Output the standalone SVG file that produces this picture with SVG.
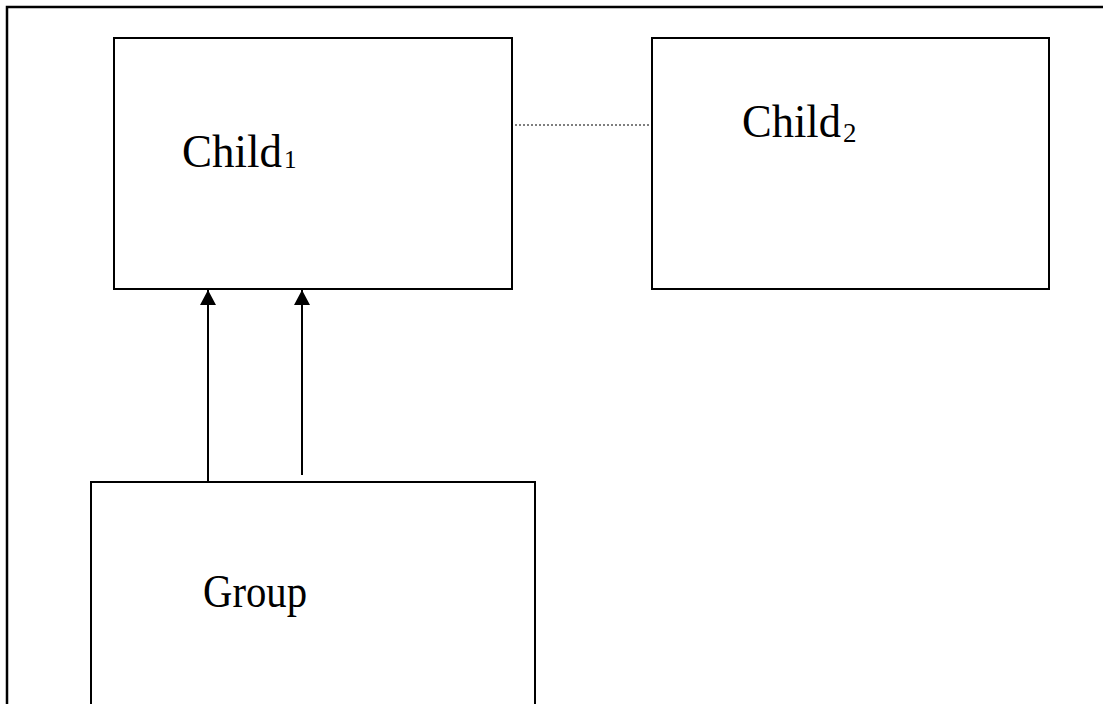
<svg xmlns="http://www.w3.org/2000/svg" width="1103" height="704" viewBox="0 0 1103 704">
<style>
.box{fill:#fff;stroke:#000;stroke-width:2}
.lbl{font-family:"Liberation Serif","Times New Roman",serif;font-size:46px;fill:#000}
.sub{font-family:"Liberation Serif","Times New Roman",serif;font-size:25px;fill:#000}
.conn{stroke:#000;stroke-width:2;fill:none}
.dot{stroke:#555;stroke-width:1.5;stroke-dasharray:2 2;fill:none}
</style>
<defs>
<marker id="arr" viewBox="0 0 15 16" refX="15" refY="8" markerWidth="15" markerHeight="16" markerUnits="userSpaceOnUse" orient="auto">
<path d="M0,0 L15,8 L0,16 Z" fill="#000"/>
</marker>
</defs>
<rect width="1103" height="704" fill="#fff"/>
<path d="M7,704 V7 H1103" fill="none" stroke="#000" stroke-width="2.5"/>
<g id="child1">
<rect class="box" x="114" y="38" width="398" height="251"/>
<text class="lbl" x="182" y="167" textLength="100" lengthAdjust="spacingAndGlyphs">Child</text>
<text class="sub" x="284" y="168">1</text>
</g>
<g id="child2">
<rect class="box" x="652" y="38" width="397" height="251"/>
<text class="lbl" x="742" y="137" textLength="99" lengthAdjust="spacingAndGlyphs">Child</text>
<text class="sub" x="843" y="142" style="font-size:27px">2</text>
</g>
<g id="group">
<rect class="box" x="91" y="482" width="444" height="240"/>
<text class="lbl" x="203" y="607" textLength="104" lengthAdjust="spacingAndGlyphs">Group</text>
</g>
<g id="connectors">
<line class="dot" x1="515" y1="125" x2="650" y2="125"/>
<line class="conn" x1="208" y1="482" x2="208" y2="290" marker-end="url(#arr)"/>
<line class="conn" x1="302" y1="475" x2="302" y2="290" marker-end="url(#arr)"/>
</g>
</svg>
